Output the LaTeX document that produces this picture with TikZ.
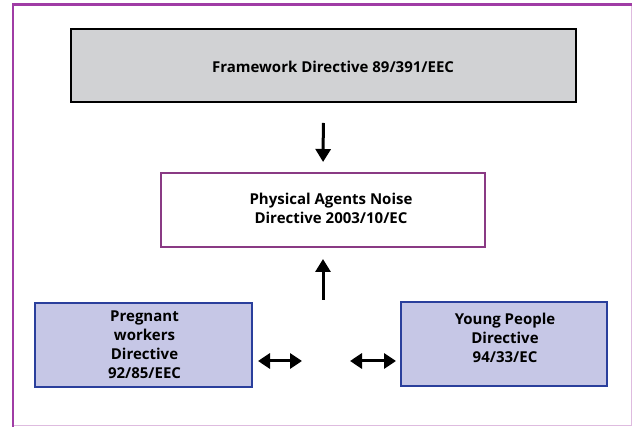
\documentclass[tikz,border=0pt]{standalone}
\usepackage{fontspec}
\setmainfont{Open Sans}
\usetikzlibrary{arrows.meta}
\definecolor{framepurple}{HTML}{A03CA5}
\definecolor{boxpurple}{HTML}{8A3A84}
\definecolor{greyfill}{HTML}{D1D2D4}
\definecolor{lavfill}{HTML}{C6C7E6}
\definecolor{navyline}{HTML}{2A3F9C}
\tikzset{
  boxtext/.style={font=\bfseries\fontsize{15}{19}\selectfont, align=center},
  box/.style={rectangle, draw, line width=2pt, inner sep=0pt},
  greybox/.style={box, draw=black, fill=greyfill},
  whitebox/.style={box, draw=boxpurple, fill=white},
  bluebox/.style={box, draw=navyline, fill=lavfill},
  label/.style={boxtext, inner sep=0pt},
  arr/.style={line width=3pt, -{Triangle[width=15pt,length=13pt]}},
  dbl/.style={line width=3pt, {Triangle[width=15pt,length=12pt]}-{Triangle[width=15pt,length=12pt]}}
}
\begin{document}
\begin{tikzpicture}[x=1pt, y=-1pt]
  \useasboundingbox (0,0) rectangle (632,427);
  \fill[white] (0,0) rectangle (632,427);
  % outer frame
  \draw[framepurple!35, line width=1pt] (631,4) -- (631,426) -- (13,426);
  \draw[framepurple, line width=2.5pt] (13,427) -- (13,4.5) -- (632,4.5);

  % directive boxes
  \node[greybox, minimum width=505pt, minimum height=73pt] (fw) at (323.5,65.5) {};
  \node[whitebox, minimum width=324pt, minimum height=74pt] (pa) at (323,210) {};
  \node[bluebox, minimum width=217pt, minimum height=84pt] (pw) at (143.5,345) {};
  \node[bluebox, minimum width=206pt, minimum height=84pt] (yp) at (504,344) {};

  % box titles
  \node[label] (fwtext) at (333,66.5) {Framework Directive 89/391/EEC};
  \node[label] (patext) at (331,208.5) {Physical Agents Noise\\Directive 2003/10/EC};
  \node[label] (pwtext) at (144.5,344.5) {Pregnant\\workers\\Directive\\92/85/EEC};
  \node[label] (yptext) at (505,338) {Young People\\Directive\\94/33/EC};

  % connectors
  \coordinate (upfoot) at (323,300);
  \coordinate (lfree) at (302,361);
  \coordinate (rfree) at (350,361);
  \draw[arr, shorten <=20pt, shorten >=10pt] (fw.south) -- (pa.north);
  \draw[arr, shorten >=11pt] (upfoot) -- (pa.south);
  \draw[dbl, shorten <=5pt] (pw.east |- lfree) -- (lfree);
  \draw[dbl, shorten >=4pt] (rfree) -- (yp.west |- rfree);
\end{tikzpicture}
\end{document}
